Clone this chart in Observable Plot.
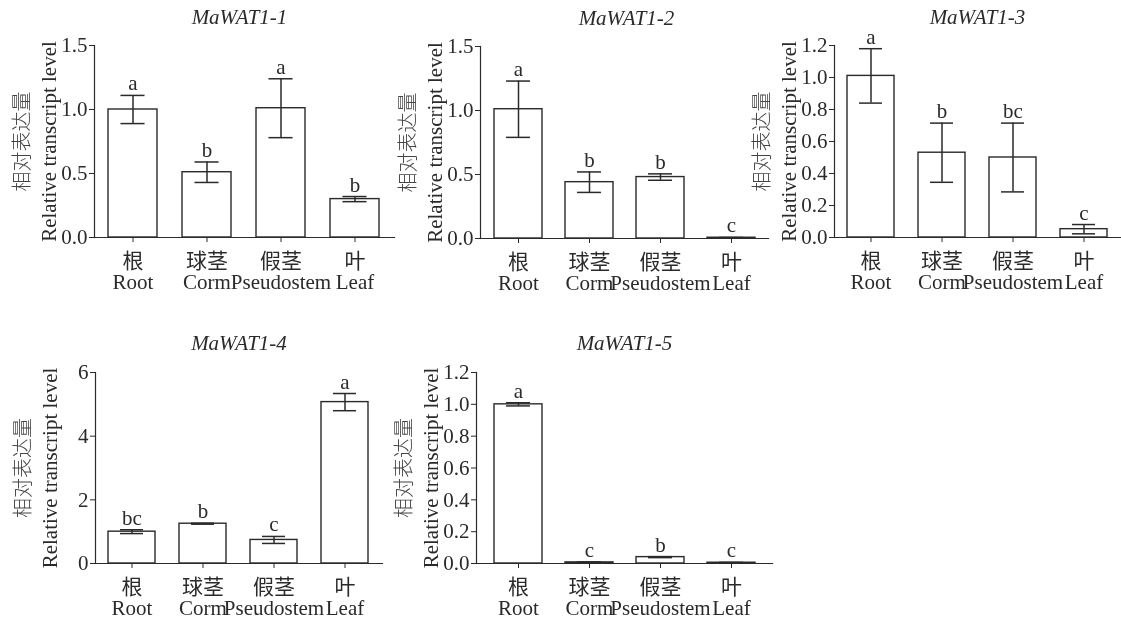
<!DOCTYPE html>
<html><head><meta charset="utf-8">
<script src="https://cdn.jsdelivr.net/npm/d3@7"></script>
<script src="https://cdn.jsdelivr.net/npm/@observablehq/plot@0.6"></script>
<style>
body{margin:0;background:#fff;}
#fig{position:relative;width:1121px;height:620px;overflow:hidden;background:#fff;}
#fig svg{position:absolute;will-change:transform;}
</style></head><body><div id="fig"></div>
<script>
// ---- data ----
const tissues = ["根\nRoot", "球茎\nCorm", "假茎\nPseudostem", "叶\nLeaf"];
const genes = ["MaWAT1-1", "MaWAT1-2", "MaWAT1-3", "MaWAT1-4", "MaWAT1-5"];

const means1 = [1.00, 0.51, 1.01, 0.30];
const errs1 = [0.11, 0.08, 0.23, 0.02];
const letters1 = ["a", "b", "a", "b"];
const yTicks1 = [0, 0.5, 1.0, 1.5];

const means2 = [1.01, 0.44, 0.48, 0.006];
const errs2 = [0.22, 0.08, 0.025, 0.002];
const letters2 = ["a", "b", "b", "c"];
const yTicks2 = [0, 0.5, 1.0, 1.5];

const means3 = [1.01, 0.53, 0.50, 0.052];
const errs3 = [0.17, 0.185, 0.215, 0.029];
const letters3 = ["a", "b", "bc", "c"];
const yTicks3 = [0, 0.2, 0.4, 0.6, 0.8, 1.0, 1.2];

const means4 = [1.00, 1.25, 0.74, 5.07];
const errs4 = [0.06, 0.015, 0.11, 0.27];
const letters4 = ["bc", "b", "c", "a"];
const yTicks4 = [0, 2, 4, 6];

const means5 = [1.00, 0.007, 0.04, 0.005];
const errs5 = [0.01, 0.003, 0.003, 0.002];
const letters5 = ["a", "c", "b", "c"];
const yTicks5 = [0, 0.2, 0.4, 0.6, 0.8, 1.0, 1.2];

const yLabelCn = "相对表达量";
const yLabelEn = "Relative transcript level";

// ---- layout ----
const layout = [
  {left: -1, top: 0, width: 400, height: 300, mt: 45, mb: 63, mr: 5, pi: 0.333, po: 0.173, fmt: ".1f", tdx: -5},
  {left: 385, top: 0, width: 388, height: 300, mt: 46, mb: 62, mr: 5, pi: 0.327, po: 0.18, fmt: ".1f", tdx: 2},
  {left: 739, top: 0, width: 384, height: 300, mt: 45, mb: 63, mr: 3, pi: 0.333, po: 0.153, fmt: ".1f", tdx: 0},
  {left: 0, top: 300, width: 387, height: 320, mt: 72, mb: 57, mr: 5, pi: 0.333, po: 0.167, fmt: "d", tdx: 0},
  {left: 381, top: 300, width: 396, height: 320, mt: 72, mb: 57, mr: 5, pi: 0.327, po: 0.238, fmt: ".1f", tdx: 0}
];
const series = [
  [means1, errs1, letters1, yTicks1],
  [means2, errs2, letters2, yTicks2],
  [means3, errs3, letters3, yTicks3],
  [means4, errs4, letters4, yTicks4],
  [means5, errs5, letters5, yTicks5]
];

const ink = "#2a2a2a";
const serif = "Liberation Serif, Noto Sans CJK SC, serif";
const cjk = "Noto Sans CJK SC, sans-serif";
const fig = document.getElementById("fig");

series.forEach(([means, errs, letters, yTicks], k) => {
  const c = layout[k];
  const ml = 95;
  const frameW = c.width - ml - c.mr;
  const step = frameW / (tissues.length - c.pi + 2 * c.po);
  const bw = step * (1 - c.pi);
  const cap = bw / 4;
  const titleDy = k < 3 ? -28 : -29;
  const data = tissues.map((t, i) => ({t, m: means[i], e: errs[i], l: letters[i]}));
  const svg = Plot.plot({
    width: c.width, height: c.height,
    marginLeft: ml, marginRight: c.mr, marginTop: c.mt, marginBottom: c.mb,
    style: `font-family: ${serif}; font-size: 21px; color: ${ink}; background: transparent; overflow: visible;`,
    x: {domain: tissues, paddingInner: c.pi, paddingOuter: c.po, axis: null},
    y: {domain: [0, yTicks[yTicks.length - 1]], axis: null},
    marks: [
      Plot.barY(data, {x: "t", y: "m", fill: "white", stroke: ink, strokeWidth: 1.4}),
      Plot.ruleX(data, {x: "t", y1: d => d.m - d.e, y2: d => d.m + d.e, stroke: ink, strokeWidth: 1.5}),
      Plot.tickY(data, {x: "t", y: d => d.m + d.e, insetLeft: cap, insetRight: cap, stroke: ink, strokeWidth: 1.5}),
      Plot.tickY(data, {x: "t", y: d => d.m - d.e, insetLeft: cap, insetRight: cap, stroke: ink, strokeWidth: 1.5}),
      Plot.text(data, {x: "t", y: d => d.m + d.e, text: "l", lineAnchor: "bottom", dy: -5, fill: ink, fontFamily: serif, fontSize: 21}),
      Plot.axisY({ticks: yTicks, tickFormat: d3.format(c.fmt), tickSize: 5, tickPadding: 2, label: null, stroke: ink, fill: ink, fontFamily: serif, fontSize: 21}),
      Plot.axisX({tickSize: 5, tickPadding: 10, label: null, stroke: ink, fill: ink, lineHeight: 1.02, fontFamily: serif, fontSize: 21}),
      Plot.frame({anchor: "left", stroke: ink, strokeWidth: 1.2}),
      Plot.frame({anchor: "bottom", stroke: ink, strokeWidth: 1.2}),
      Plot.text([genes[k]], {frameAnchor: "top", lineAnchor: "middle", dy: titleDy, dx: c.tdx, fontStyle: "italic", fill: ink, fontFamily: serif, fontSize: 21}),
      Plot.text([yLabelCn], {frameAnchor: "left", textAnchor: "middle", lineAnchor: "middle", rotate: -90, dx: -72, fill: "#444", fontFamily: cjk, fontWeight: 300, fontSize: 20}),
      Plot.text([yLabelEn], {frameAnchor: "left", textAnchor: "middle", lineAnchor: "middle", rotate: -90, dx: -45, fill: ink, fontFamily: serif, fontSize: 21})
    ]
  });
  svg.style.left = c.left + "px";
  svg.style.top = c.top + "px";
  fig.appendChild(svg);
});
</script></body></html>
